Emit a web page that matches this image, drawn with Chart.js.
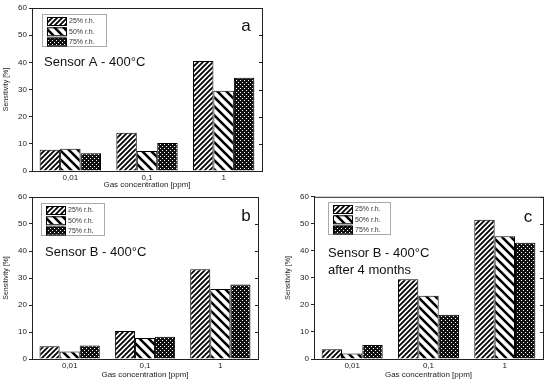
<!DOCTYPE html>
<html>
<head>
<meta charset="utf-8">
<script src="https://cdn.jsdelivr.net/npm/chart.js@4.4.1/dist/chart.umd.min.js"></script>
<style>
body { margin: 0; background: #fff; }
canvas { position: absolute; }
</style>
</head>
<body>
<canvas id="chartA" width="275" height="190" style="left:0;top:0"></canvas>
<canvas id="chartB" width="275" height="190" style="left:0;top:190px"></canvas>
<canvas id="chartC" width="275" height="190" style="left:275px;top:190px"></canvas>
<script>
// datos
const concentraciones = ['0,01', '0,1', '1']
const humedades = ['25% r.h.', '50% r.h.', '75% r.h.']
const ticksY = [0, 10, 20, 30, 40, 50, 60]

const sensorA_25 = [7.8, 14.1, 40.5]
const sensorA_50 = [8.2, 7.4, 29.5]
const sensorA_75 = [6.5, 10.3, 34.3]

const sensorB_25 = [4.7, 10.4, 33.2]
const sensorB_50 = [2.8, 7.8, 25.9]
const sensorB_75 = [5.0, 8.2, 27.6]

const sensorB4m_25 = [3.6, 29.5, 51.5]
const sensorB4m_50 = [2.0, 23.4, 45.4]
const sensorB4m_75 = [5.2, 16.4, 43.0]

const fuente = "'Liberation Sans', Arial, sans-serif"

// patrones de relleno (rayado)
const crearPatron = (tam, dibujar) => {
    const c = document.createElement('canvas')
    c.width = tam
    c.height = tam
    const ctx = c.getContext('2d')
    dibujar(ctx, tam)
    return ctx.createPattern(c, 'repeat')
}

const patron25 = crearPatron(5, (ctx, t) => {
    ctx.fillStyle = '#fff'
    ctx.fillRect(0, 0, t, t)
    ctx.strokeStyle = '#000'
    ctx.lineWidth = 1.8
    ctx.beginPath()
    ctx.moveTo(-1, t + 1); ctx.lineTo(t + 1, -1)
    ctx.moveTo(-2, 2); ctx.lineTo(2, -2)
    ctx.moveTo(t - 2, t + 2); ctx.lineTo(t + 2, t - 2)
    ctx.stroke()
})

const patron50 = crearPatron(9, (ctx, t) => {
    ctx.fillStyle = '#fff'
    ctx.fillRect(0, 0, t, t)
    ctx.strokeStyle = '#000'
    ctx.lineWidth = 2.6
    ctx.beginPath()
    ctx.moveTo(-1, -1); ctx.lineTo(t + 1, t + 1)
    ctx.moveTo(-3, t - 3); ctx.lineTo(3, t + 3)
    ctx.moveTo(t - 3, -3); ctx.lineTo(t + 3, 3)
    ctx.stroke()
})

const patron75 = crearPatron(4, (ctx, t) => {
    ctx.fillStyle = '#111'
    ctx.fillRect(0, 0, t, t)
    ctx.fillStyle = '#fff'
    ctx.fillRect(0, 0, 1, 1)
    ctx.fillRect(2, 2, 1, 1)
})

const patrones = [patron25, patron50, patron75]

// plugin para marco, leyenda y textos
const anotaciones = {
    id: 'anotaciones',
    afterDraw(chart, args, opts) {
        const ctx = chart.ctx
        const a = chart.chartArea
        ctx.save()
        ctx.strokeStyle = '#222'
        ctx.lineWidth = 1
        ctx.strokeRect(a.left + 0.5, a.top + 0.5, a.right - a.left, a.bottom - a.top)
        // ticks menores a la derecha
        const y = chart.scales.y
        ticksY.forEach((v) => {
            const py = Math.round(y.getPixelForValue(v)) + 0.5
            ctx.beginPath()
            ctx.moveTo(a.right - 3, py)
            ctx.lineTo(a.right, py)
            ctx.stroke()
        })

        // leyenda
        const l = opts.leyenda
        ctx.strokeStyle = '#aaa'
        ctx.strokeRect(l.x + 0.5, l.y + 0.5, l.w, l.h)
        ctx.font = '7px ' + fuente
        ctx.textBaseline = 'middle'
        humedades.forEach((txt, i) => {
            const fy = l.y + 3 + i * 10.3
            ctx.fillStyle = patrones[i]
            ctx.fillRect(l.x + 5, fy, 19, 8)
            ctx.strokeStyle = '#000'
            ctx.strokeRect(l.x + 5.5, fy + 0.5, 19, 8)
            ctx.fillStyle = '#333'
            ctx.fillText(txt, l.x + 27, fy + 4.5)
        })

        // titulo del sensor
        ctx.fillStyle = '#111'
        ctx.font = '13px ' + fuente
        opts.titulo.forEach((linea, i) => {
            ctx.fillText(linea, opts.tx, opts.ty + i * 17)
        })
        // letra del panel
        ctx.font = '17px ' + fuente
        ctx.textAlign = 'center'
        ctx.fillText(opts.letra, opts.lx, opts.ly)
        ctx.restore()
    }
}

const crearGrafico = (id, d25, d50, d75, cfg) => {
    const conjuntos = [d25, d50, d75].map((datos, i) => ({
        label: humedades[i],
        data: datos,
        backgroundColor: patrones[i],
        borderColor: '#000',
        borderWidth: 1,
        categoryPercentage: 0.8,
        barPercentage: 1.0
    }))
    return new Chart(document.getElementById(id), {
        type: 'bar',
        data: { labels: concentraciones, datasets: conjuntos },
        plugins: [anotaciones],
        options: {
            responsive: false,
            animation: false,
            layout: { padding: cfg.padding },
            plugins: {
                legend: { display: false },
                tooltip: { enabled: false },
                anotaciones: cfg
            },
            scales: {
                x: {
                    grid: { display: false, drawTicks: false },
                    border: { color: '#222' },
                    ticks: { color: '#222', font: { family: fuente, size: 8 }, padding: 2 },
                    title: { display: true, text: 'Gas concentration [ppm]', color: '#222', font: { family: fuente, size: 8 }, padding: 0 },
                    afterFit: (eje) => { eje.height = cfg.altoX }
                },
                y: {
                    min: 0,
                    max: 60,
                    grid: { drawOnChartArea: false, tickLength: 3, color: '#222' },
                    border: { color: '#222' },
                    ticks: { stepSize: 10, color: '#222', font: { family: fuente, size: 8 }, padding: 2 },
                    title: { display: true, text: 'Sensitivity [%]', color: '#222', font: { family: fuente, size: 7 }, padding: { top: 0, bottom: 0 } },
                    afterFit: (eje) => { eje.width = cfg.anchoY }
                }
            }
        }
    })
}

crearGrafico('chartA', sensorA_25, sensorA_50, sensorA_75, {
    padding: { left: 2, right: 13, top: 8, bottom: 0 },
    anchoY: 30, altoX: 19,
    leyenda: { x: 42, y: 14, w: 64, h: 32 },
    titulo: ['Sensor A - 400°C'], tx: 44, ty: 62,
    letra: 'a', lx: 246, ly: 26
})

crearGrafico('chartB', sensorB_25, sensorB_50, sensorB_75, {
    padding: { left: 2, right: 17, top: 7, bottom: 0 },
    anchoY: 30, altoX: 21,
    leyenda: { x: 41, y: 13, w: 63, h: 32 },
    titulo: ['Sensor B - 400°C'], tx: 45, ty: 62,
    letra: 'b', lx: 246, ly: 26
})

crearGrafico('chartC', sensorB4m_25, sensorB4m_50, sensorB4m_75, {
    padding: { left: 9, right: 7, top: 6, bottom: 0 },
    anchoY: 30, altoX: 21,
    leyenda: { x: 53, y: 12, w: 62, h: 32 },
    titulo: ['Sensor B - 400°C', 'after 4 months'], tx: 53, ty: 63,
    letra: 'c', lx: 253, ly: 27
})
</script>
</body>
</html>
